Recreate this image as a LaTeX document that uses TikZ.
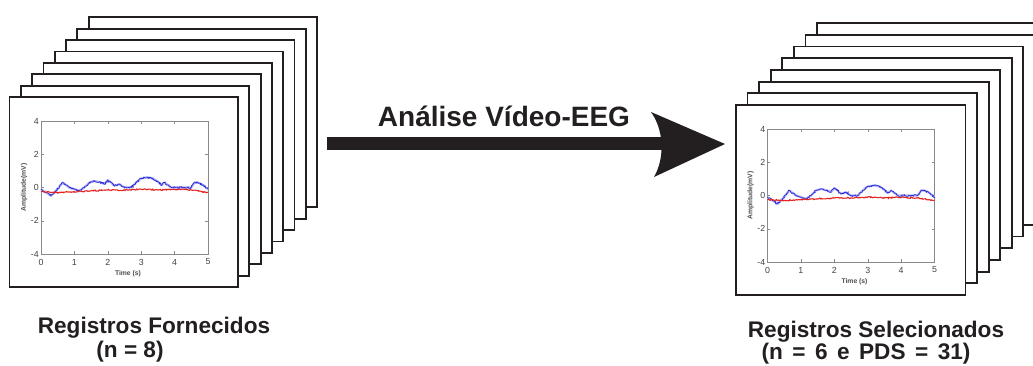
\documentclass[tikz,border=0pt]{standalone}
\usepackage{fontspec}
\setmainfont{Liberation Sans}
\usetikzlibrary{decorations.pathmorphing}
\definecolor{ink}{HTML}{231F20}
\definecolor{sigblue}{HTML}{2828D8}
\definecolor{sigred}{HTML}{E62420}
\definecolor{axgray}{HTML}{8A8A8A}
\newcommand{\widesp}{\hspace{0.42em}}
\tikzset{
  sheet/.style={draw=ink, line width=1.8pt, fill=white, minimum width=#1,
    minimum height=190pt, inner sep=0pt, outer sep=0pt, anchor=north west},
  ticklab/.style={font=\fontsize{8.8}{9}\selectfont, text=ink!85, inner sep=0pt},
  axlab/.style={font=\fontsize{6.8}{7}\selectfont\bfseries, text=ink!80, inner sep=0pt},
  caption/.style={font=\fontsize{22.6}{26}\selectfont\bfseries, text=ink, inner sep=0pt, anchor=base},
  arrowlab/.style={font=\fontsize{28}{30}\selectfont\bfseries, text=ink, inner sep=0pt, anchor=base},
  noisy/.style={decorate, decoration={random steps, segment length=1pt, amplitude=#1}},
  axline/.style={axgray, line width=0.4pt},
  eegplot/.pic={
    \draw[axgray, line width=0.5pt] (31.5,24) rectangle (198.5,157);
    \foreach \xx in {64.9,98.3,131.7,165.1} {
      \draw[axline] (\xx,24) -- ++(0,3);
      \draw[axline] (\xx,157) -- ++(0,-3);
    }
    \foreach \yy in {57.3,90.5,123.7} {
      \draw[axline] (31.5,\yy) -- ++(2.7,0);
      \draw[axline] (198.5,\yy) -- ++(-2.7,0);
    }
    \foreach \yy/\lab in {24/4, 57.3/2, 90.5/0, 123.7/-2, 157/-4}
      \node[ticklab, anchor=east] (yl\lab) at (29.5,\yy) {\lab};
    \foreach \xx/\lab in {31.5/0, 64.9/1, 98.3/2, 131.7/3, 165.1/4, 198.5/5}
      \node[ticklab] (xl\lab) at (\xx,165) {\lab};
    \node[axlab] (xlab) at (118.5,177) {Time (s)};
    \node[axlab, rotate=90] (ylab) at (14.5,90.5) {Amplitude(mV)};
    \draw[sigblue!35, line width=2.2pt, line join=round]
      (31.5,92.2) -- (36.5,95.5) -- (41.5,98.8) -- (46.5,93.8) -- (49.9,89.7) -- (53.2,85.5) -- (56.6,88.0) -- (59.9,90.5) -- (64.9,92.2) -- (69.9,93.8) -- (74.9,90.5) -- (79.9,85.5) -- (84.9,83.9) -- (91.6,85.5) -- (95.0,87.2) -- (98.3,83.0) -- (101.6,85.5) -- (105.0,88.8) -- (110.0,87.2) -- (115.0,90.5) -- (121.7,90.5) -- (126.7,85.5) -- (131.7,81.4) -- (138.4,80.5) -- (143.4,81.4) -- (148.4,84.7) -- (151.7,88.0) -- (155.1,85.5) -- (158.4,88.0) -- (161.8,90.5) -- (168.4,90.5) -- (175.1,90.5) -- (181.8,90.5) -- (185.1,85.5) -- (188.5,85.5) -- (193.5,88.0) -- (198.5,92.2);
    \draw[sigblue, line width=0.7pt, noisy=0.9pt]
      (31.5,92.2) -- (36.5,95.5) -- (41.5,98.8) -- (46.5,93.8) -- (49.9,89.7) -- (53.2,85.5) -- (56.6,88.0) -- (59.9,90.5) -- (64.9,92.2) -- (69.9,93.8) -- (74.9,90.5) -- (79.9,85.5) -- (84.9,83.9) -- (91.6,85.5) -- (95.0,87.2) -- (98.3,83.0) -- (101.6,85.5) -- (105.0,88.8) -- (110.0,87.2) -- (115.0,90.5) -- (121.7,90.5) -- (126.7,85.5) -- (131.7,81.4) -- (138.4,80.5) -- (143.4,81.4) -- (148.4,84.7) -- (151.7,88.0) -- (155.1,85.5) -- (158.4,88.0) -- (161.8,90.5) -- (168.4,90.5) -- (175.1,90.5) -- (181.8,90.5) -- (185.1,85.5) -- (188.5,85.5) -- (193.5,88.0) -- (198.5,92.2);
    \draw[sigred, line width=1.1pt, noisy=0.6pt]
      (31.5,94.7) -- (48.2,95.5) -- (64.9,94.7) -- (81.6,93.8) -- (98.3,93.0) -- (115.0,93.0) -- (131.7,92.2) -- (148.4,93.0) -- (165.1,92.2) -- (181.8,93.0) -- (198.5,95.5);
  }
}
\begin{document}
\pgfmathsetseed{11}
\begin{tikzpicture}[x=1pt, y=-1pt]
  \useasboundingbox (0,0) rectangle (1033,365);
  \clip (0,0) rectangle (1033,365);
  % left stack
  \foreach \i in {8,7,...,1}
    \node[sheet=228.5pt] (L\i) at ({9.5+11.3*(\i-1)},{97-11.4*(\i-1)}) {};
  \pic (lp) at (L1.north west) {eegplot};
  % right stack
  \foreach \i in {8,7,...,1}
    \node[sheet=229.5pt] (R\i) at ({736+11.57*(\i-1)},{105-11.7*(\i-1)}) {};
  \pic (rp) at (R1.north west) {eegplot};
  % arrow
  \coordinate (atail) at (327,143.5);
  \coordinate (aback) at (662,143.5);
  \coordinate (atip) at (725,144);
  \fill[ink] ([yshift=-6.5pt]atail) rectangle ([yshift=6.5pt]aback);
  \fill[ink] (atip) -- (651,112) .. controls (664,130) and (665,158) .. (654,177) -- cycle;
  \node[arrowlab] (alab) at (504,126) {Análise Vídeo-EEG};
  % captions
  \node[caption] (lcap1) at (154,333) {Registros Fornecidos};
  \node[caption] (lcap2) at (130,357.5) {(n = 8)};
  \node[caption] (rcap1) at (876,337.5) {Registros Selecionados};
  \node[caption] (rcap2) at (866,359.5) {(n\widesp=\widesp6\widesp e\widesp PDS\widesp=\widesp31)};
\end{tikzpicture}
\end{document}
